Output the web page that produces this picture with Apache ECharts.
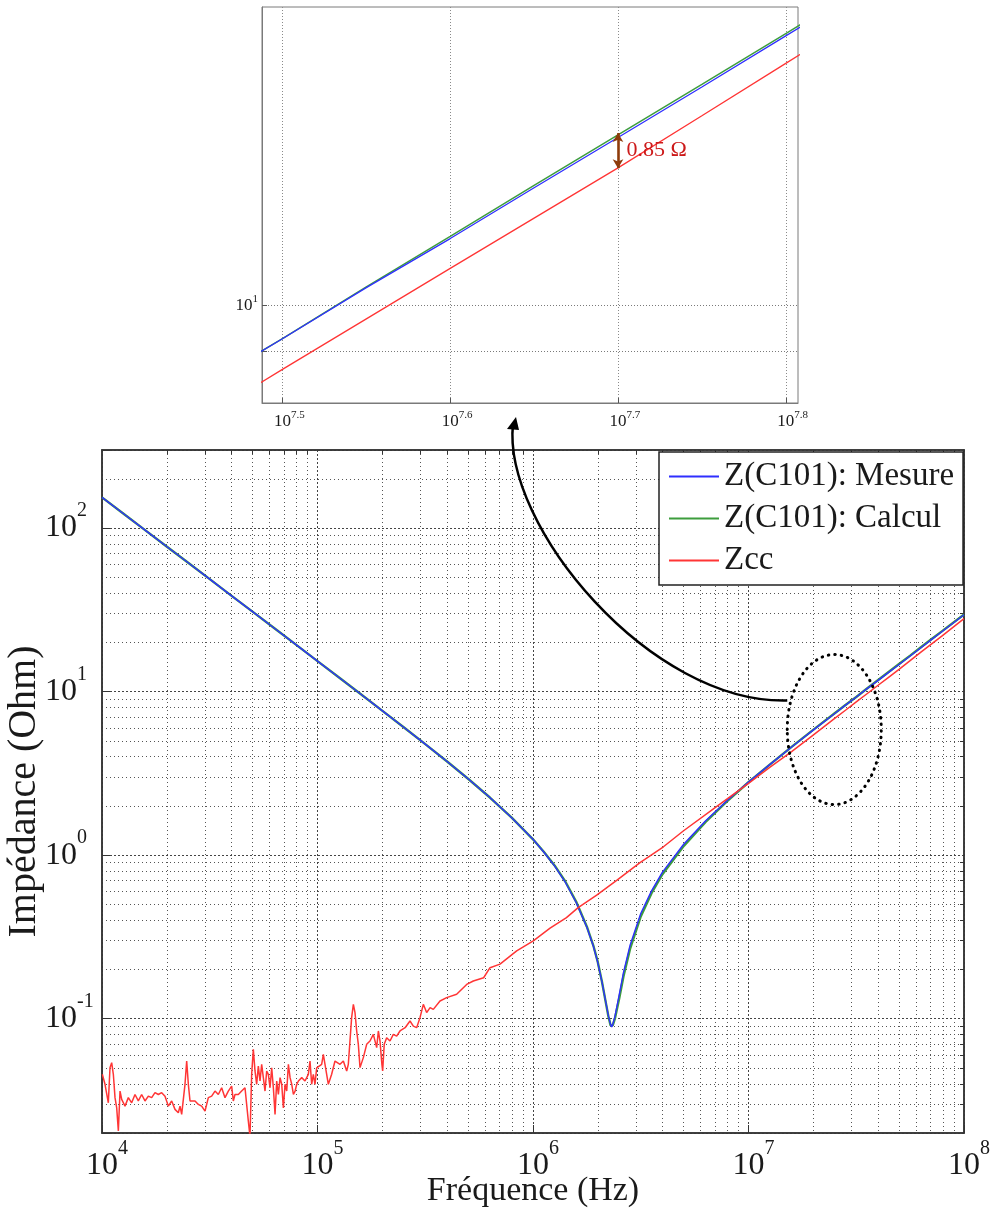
<!DOCTYPE html>
<html>
<head>
<meta charset="utf-8">
<script src="https://cdn.jsdelivr.net/npm/echarts@6.0.0/dist/echarts.min.js"></script>
<style>
html,body{margin:0;padding:0;background:#fff;}
#c{width:990px;height:1212px;}
</style>
</head>
<body>
<div id="c"></div>
<script>
// ---------------- DATA ----------------
const seriesNames = ['Z(C101): Mesure', 'Z(C101): Calcul', 'Zcc'];

// frequency samples for the capacitor curves (Hz)
const freqC = [10000, 12589, 15849, 19953, 25119, 31623, 39811, 50119, 63096, 79433,
  100000, 125893, 158489, 199526, 251189, 316228, 398107, 501187, 630957, 794328,
  1000000, 1122018, 1258925, 1412538, 1584893, 1778279, 1905461, 1995262, 2089296, 2187762,
  2238721, 2290868, 2317395, 2344229, 2398833, 2511886, 2630268, 2818383, 3162278, 3548134,
  3981072, 5011872, 6309573, 7943282, 10000000, 12589254, 15848932, 19952623, 25118864, 28183829,
  31622777, 35481339, 39810717, 44668359, 50118723, 56234133, 63095734, 70794578, 79432823, 100000000];

// Z(C101): Mesure (Ohm)
const zMes = [153.9, 122.3, 97.1, 77.1, 61.3, 48.7, 38.6, 30.7, 24.4, 19.37,
  15.36, 12.19, 9.66, 7.65, 6.05, 4.77, 3.75, 2.92, 2.25, 1.70,
  1.25, 1.045, 0.86, 0.683, 0.515, 0.362, 0.278, 0.222, 0.168, 0.122,
  0.104, 0.092, 0.089, 0.092, 0.103, 0.140, 0.192, 0.280, 0.440, 0.605,
  0.785, 1.17, 1.615, 2.15, 2.80, 3.59, 4.58, 5.81, 7.35, 8.26,
  9.27, 10.42, 11.66, 13.10, 14.70, 16.50, 18.55, 20.85, 23.40, 29.5];

// Z(C101): Calcul (Ohm)
const zCal = [153.9, 122.3, 97.1, 77.1, 61.3, 48.7, 38.6, 30.7, 24.4, 19.37,
  15.36, 12.19, 9.66, 7.65, 6.05, 4.77, 3.75, 2.92, 2.25, 1.70,
  1.25, 1.05, 0.865, 0.69, 0.52, 0.365, 0.28, 0.224, 0.168, 0.121,
  0.103, 0.091, 0.089, 0.091, 0.100, 0.133, 0.182, 0.266, 0.422, 0.585,
  0.762, 1.14, 1.59, 2.13, 2.79, 3.59, 4.59, 5.83, 7.37, 8.28,
  9.27, 10.44, 11.72, 13.17, 14.79, 16.60, 18.65, 20.95, 23.50, 29.6];

// Zcc frequency samples (Hz)
const freqZcc = [10035, 10326, 10700, 10892, 11089, 11288, 11492, 11700, 11909, 12124,
  12343, 12787, 13249, 13729, 14226, 14741, 15275, 15830, 16406, 17000,
  17618, 18257, 18919, 19605, 20316, 21052, 21815, 22607, 23011, 23427,
  24274, 24716, 25158, 25614, 26075, 27020, 27990, 29005, 30061, 31147,
  32277, 33448, 34657, 35914, 37217, 38565, 39964, 40680, 41410, 42910,
  44467, 46081, 46907, 47748, 48613, 49487, 50376, 51286, 52205, 53143,
  54104, 55076, 56065, 57079, 58105, 59149, 60218, 61300, 62402, 63531,
  64672, 65833, 67023, 68227, 69453, 70711, 71981, 73273, 74600, 75939,
  77302, 78702, 80115, 81553, 84506, 87498, 90663, 92305, 93961, 95647,
  97365, 99106, 100900, 104545, 106438, 108349, 112276, 116321, 120559, 127200,
  131800, 136600, 139000, 144000, 146700, 149300, 152000, 154700, 157500, 163200,
  169100, 175200, 181600, 188200, 191600, 195000, 199000, 200600, 204000, 209400,
  217000, 224800, 233000, 241400, 255000, 268700, 278400, 288500, 299000, 309800,
  321000, 333000, 344700, 370200, 397600, 442300, 492200, 528500, 590000, 631800,
  703000, 840000, 1003000, 1200000, 1430000, 1620000, 1975000, 2445000, 3137000, 4030000,
  4980000, 7000000, 10000000, 12589254, 15848932, 19952623, 25118864, 28183829, 31622777, 35481339,
  39810717, 44668359, 50118723, 56234133, 63095734, 70794578, 79432823, 100000000];

// Zcc (Ohm)
const zZcc = [0.0457, 0.0397, 0.0306, 0.0501, 0.0538, 0.0457, 0.0329, 0.0285, 0.0206, 0.0361,
  0.0321, 0.0292, 0.0329, 0.0306, 0.0344, 0.0314, 0.0344, 0.0314, 0.0336, 0.0329,
  0.0353, 0.0344, 0.0353, 0.0336, 0.0292, 0.0314, 0.0279, 0.0266, 0.0292, 0.0260,
  0.0397, 0.0551, 0.0397, 0.0314, 0.0306, 0.0314, 0.0299, 0.0292, 0.0272, 0.0329,
  0.0336, 0.0361, 0.0344, 0.0378, 0.0329, 0.0361, 0.0387, 0.0314, 0.0344, 0.0344,
  0.0361, 0.0378, 0.0387, 0.0237, 0.0190, 0.0457, 0.0650, 0.0479, 0.0397, 0.0513,
  0.0416, 0.0526, 0.0436, 0.0361, 0.0479, 0.0457, 0.0378, 0.0501, 0.0378, 0.0260,
  0.0416, 0.0344, 0.0436, 0.0397, 0.0285, 0.0397, 0.0361, 0.0526, 0.0436, 0.0397,
  0.0344, 0.0361, 0.0397, 0.0416, 0.0436, 0.0416, 0.0457, 0.0551, 0.0397, 0.0457,
  0.0397, 0.0501, 0.0501, 0.0526, 0.0605, 0.0526, 0.0397, 0.0457, 0.0551, 0.0526,
  0.0551, 0.0479, 0.0526, 0.1015, 0.1224, 0.109, 0.0841, 0.0697, 0.0502, 0.0578,
  0.0697, 0.0730, 0.0802, 0.0665, 0.0841, 0.0730, 0.0526, 0.0479, 0.0697, 0.0765,
  0.0730, 0.0802, 0.0783, 0.0841, 0.0881, 0.0968, 0.0900, 0.0881, 0.1015, 0.1224,
  0.1090, 0.1168, 0.1140, 0.1282, 0.1345, 0.1410, 0.1620, 0.1700, 0.1780, 0.2050,
  0.2155, 0.2595, 0.2990, 0.3580, 0.4150, 0.4775, 0.5700, 0.7000, 0.9010, 1.125,
  1.405, 1.95, 2.75, 3.45, 4.29, 5.42, 6.85, 7.69, 8.64, 9.70,
  10.89, 12.22, 13.71, 15.45, 17.42, 19.60, 22.00, 27.9];

// tick values
const mainXMinor = [2e4,3e4,4e4,5e4,6e4,7e4,8e4,9e4, 2e5,3e5,4e5,5e5,6e5,7e5,8e5,9e5,
  2e6,3e6,4e6,5e6,6e6,7e6,8e6,9e6, 2e7,3e7,4e7,5e7,6e7,7e7,8e7,9e7];
const mainYMinor = [0.03,0.04,0.05,0.06,0.07,0.08,0.09, 0.2,0.3,0.4,0.5,0.6,0.7,0.8,0.9,
  2,3,4,5,6,7,8,9, 20,30,40,50,60,70,80,90, 200];
const insetXTicks = [31622777, 39810717, 50118723, 63095734];
const insetXLabels = ['7.5', '7.6', '7.7', '7.8'];
const insetYTicks = [9, 10];
const insetYLabelVals = [10];

// axis ranges
const insetRange = {xMin: 30748000, xMax: 64164000, yMin: 8, yMax: 19.82};
const mainRange = {xMin: 1e4, xMax: 1e8, yMin: 0.02, yMax: 300};

// annotations
const delta = {f: 50118723, low: 13.70, high: 14.85, text: '0.85 \u03A9'};
const ellipseAt = [2.5e7, 5.86];

// ---------------- STYLE ----------------
const FONT = '"Liberation Serif", "Times New Roman", serif';
const BLUE = '#2f2fff', GREEN = '#3d9d3d', RED = '#ff3535';
const INK = '#1a1a1a';

const richMain = {
  b: {fontFamily: FONT, fontSize: 32, lineHeight: 54, color: INK},
  s: {fontFamily: FONT, fontSize: 20, lineHeight: 20, verticalAlign: 'top', color: INK},
  h: {fontFamily: FONT, fontSize: 20, lineHeight: 20, verticalAlign: 'top', color: 'rgba(0,0,0,0)'}
};
const richInset = {
  b: {fontFamily: FONT, fontSize: 17, lineHeight: 24, color: INK},
  s: {fontFamily: FONT, fontSize: 11, lineHeight: 12, verticalAlign: 'top', color: INK},
  h: {fontFamily: FONT, fontSize: 11, lineHeight: 12, verticalAlign: 'top', color: 'rgba(0,0,0,0)'}
};
function intExp(v) {
  const e = Math.log10(v);
  const r = Math.round(e);
  return Math.abs(e - r) < 1e-6 ? r : null;
}
function pairs(xs, ys) { return xs.map((x, i) => [x, ys[i]]); }

const chart = echarts.init(document.getElementById('c'), null, {renderer: 'canvas'});

function lineSeries(name, xi, data, color, z, width, extra) {
  return Object.assign({
    name: name, type: 'line', xAxisIndex: xi, yAxisIndex: xi, data: data,
    symbol: 'none', showSymbol: false, silent: true, animation: false, clip: true,
    lineStyle: {color: color, width: width}, itemStyle: {color: color}, z: z
  }, extra || {});
}

const option = {
  backgroundColor: '#ffffff',
  animation: false,
  grid: [
    {left: 262, top: 7, width: 536, height: 396, show: true, borderColor: '#7a7a7a', borderWidth: 1,
      backgroundColor: 'transparent', containLabel: false, outerBoundsMode: 'none'},
    {left: 102, top: 450, width: 862, height: 683, show: true, borderColor: '#333', borderWidth: 1.5,
      backgroundColor: 'transparent', containLabel: false, outerBoundsMode: 'none'}
  ],
  legend: {
    data: seriesNames, orient: 'vertical', left: 659, top: 452,
    backgroundColor: '#fff', borderColor: '#222', borderWidth: 1.5,
    padding: [8, 9, 8, 10], itemWidth: 50, itemHeight: 2, itemGap: 9, icon: 'rect',
    textStyle: {fontFamily: FONT, fontSize: 33, lineHeight: 32, color: INK},
    selectedMode: false, z: 20
  },
  xAxis: [
    {gridIndex: 0, type: 'log', min: insetRange.xMin, max: insetRange.xMax,
      axisLine: {show: true, lineStyle: {color: '#7a7a7a', width: 1}},
      axisTick: {show: true, inside: true, length: 5, customValues: insetXTicks, lineStyle: {color: '#555'}},
      axisLabel: {show: true, customValues: insetXTicks, margin: 7, rich: richInset,
        formatter: function (v) {
          let best = -1, bd = 1e9;
          insetXTicks.forEach((t, i) => { const d = Math.abs(Math.log10(t) - Math.log10(v)); if (d < bd) { bd = d; best = i; } });
          if (bd > 0.002) return '';
          const e = insetXLabels[best];
          return '{h|' + e + '}{b|10}{s|' + e + '}';
        }},
      splitLine: {show: true, lineStyle: {color: '#8a8a8a', type: [1, 2], width: 1}}
    },
    {gridIndex: 1, type: 'log', min: mainRange.xMin, max: mainRange.xMax, position: 'bottom',
      name: 'Fréquence (Hz)', nameLocation: 'middle', nameGap: 41, nameMoveOverlap: false,
      nameTextStyle: {fontFamily: FONT, fontSize: 34, color: INK},
      axisLine: {show: true, lineStyle: {color: '#333', width: 1.5}},
      axisTick: {show: true, inside: true, length: 8, lineStyle: {color: '#333'}},
      axisLabel: {show: true, margin: 6, rich: richMain,
        formatter: function (v) { const e = intExp(v); return e === null ? '' : '{h|' + e + '}{b|10}{s|' + e + '}'; }},
      splitLine: {show: true, lineStyle: {color: '#444', type: [2, 2], width: 1}}
    },
    {gridIndex: 1, type: 'log', min: mainRange.xMin, max: mainRange.xMax, position: 'top',
      axisLine: {show: true, lineStyle: {color: '#333', width: 1.5}},
      axisTick: {show: true, inside: true, length: 4, customValues: mainXMinor, lineStyle: {color: '#333'}},
      axisLabel: {show: false},
      splitLine: {show: true, lineStyle: {color: '#555', type: [1, 3], width: 1}}
    }
  ],
  yAxis: [
    {gridIndex: 0, type: 'log', min: insetRange.yMin, max: insetRange.yMax,
      axisLine: {show: true, lineStyle: {color: '#7a7a7a', width: 1}},
      axisTick: {show: true, inside: true, length: 5, customValues: insetYTicks, lineStyle: {color: '#555'}},
      axisLabel: {show: true, customValues: insetYLabelVals, margin: 4, rich: richInset,
        formatter: function (v) { const e = intExp(v); return e === null ? '' : '{b|10}{s|' + e + '}'; }},
      splitLine: {show: true, lineStyle: {color: '#7a7a7a', type: [1, 2], width: 1}}
    },
    {gridIndex: 1, type: 'log', min: mainRange.yMin, max: mainRange.yMax, position: 'left',
      name: 'Impédance (Ohm)', nameLocation: 'middle', nameGap: 58, nameRotate: 90, nameMoveOverlap: false,
      nameTextStyle: {fontFamily: FONT, fontSize: 40, color: INK},
      axisLine: {show: true, lineStyle: {color: '#333', width: 1.5}},
      axisTick: {show: true, inside: true, length: 8, lineStyle: {color: '#333'}},
      axisLabel: {show: true, margin: 57, align: 'left', rich: richMain,
        formatter: function (v) { const e = intExp(v); return e === null ? '' : '{b|10}{s|' + e + '}'; }},
      splitLine: {show: true, lineStyle: {color: '#444', type: [2, 2], width: 1}}
    },
    {gridIndex: 1, type: 'log', min: mainRange.yMin, max: mainRange.yMax, position: 'right',
      axisLine: {show: true, lineStyle: {color: '#333', width: 1.5}},
      axisTick: {show: true, inside: true, length: 4, customValues: mainYMinor, lineStyle: {color: '#333'}},
      axisLabel: {show: false},
      splitLine: {show: true, lineStyle: {color: '#555', type: [1, 3], width: 1}}
    }
  ],
  series: [
    // inset (zoom)
    lineSeries(seriesNames[1], 0, pairs(freqC, zCal), GREEN, 2, 1.5),
    lineSeries(seriesNames[0], 0, pairs(freqC, zMes), BLUE, 3, 1.3),
    lineSeries(seriesNames[2], 0, pairs(freqZcc, zZcc), RED, 4, 1.3, {
      markLine: {
        silent: true, animation: false, symbol: ['arrow', 'arrow'], symbolSize: [8, 9],
        lineStyle: {color: '#8e3b0b', width: 2.6, type: 'solid'},
        label: {show: false},
        data: [[{coord: [delta.f, delta.low]}, {coord: [delta.f, delta.high]}]]
      },
      markPoint: {
        silent: true, animation: false,
        data: [{coord: [delta.f, Math.sqrt(delta.low * delta.high)], symbol: 'circle', symbolSize: 1,
          itemStyle: {color: 'rgba(0,0,0,0)'},
          label: {show: true, position: 'right', distance: 8, formatter: delta.text,
            color: '#cc1a1a', fontSize: 22, fontFamily: FONT}}]
      }
    }),
    // main
    lineSeries(seriesNames[1], 1, pairs(freqC, zCal), GREEN, 2, 2.4),
    lineSeries(seriesNames[0], 1, pairs(freqC, zMes), BLUE, 3, 1.4),
    lineSeries(seriesNames[2], 1, pairs(freqZcc, zZcc), RED, 4, 1.5)
  ]
};
chart.setOption(option);

// annotation: dotted ellipse + curved arrow (ellipse centre located through the main axes)
const ctr = chart.convertToPixel({gridIndex: 1}, ellipseAt);
const rx = 47, ry = 75;
chart.setOption({
  graphic: [
    {type: 'ellipse', z: 100, silent: true,
      shape: {cx: ctr[0], cy: ctr[1], rx: rx, ry: ry},
      style: {fill: 'rgba(0,0,0,0)', stroke: '#000', lineWidth: 3, lineDash: [0.5, 6], lineCap: 'round'}},
    {type: 'bezierCurve', z: 100, silent: true,
      shape: {x1: 513, y1: 424, cpx1: 502, cpy1: 525, cpx2: 650, cpy2: 704, x2: ctr[0] - rx, y2: ctr[1] - 29},
      style: {fill: null, stroke: '#000', lineWidth: 2.5}},
    {type: 'polygon', z: 100, silent: true,
      shape: {points: [[516, 417], [507, 429], [519, 430]]},
      style: {fill: '#000'}}
  ]
});
</script>
</body>
</html>
